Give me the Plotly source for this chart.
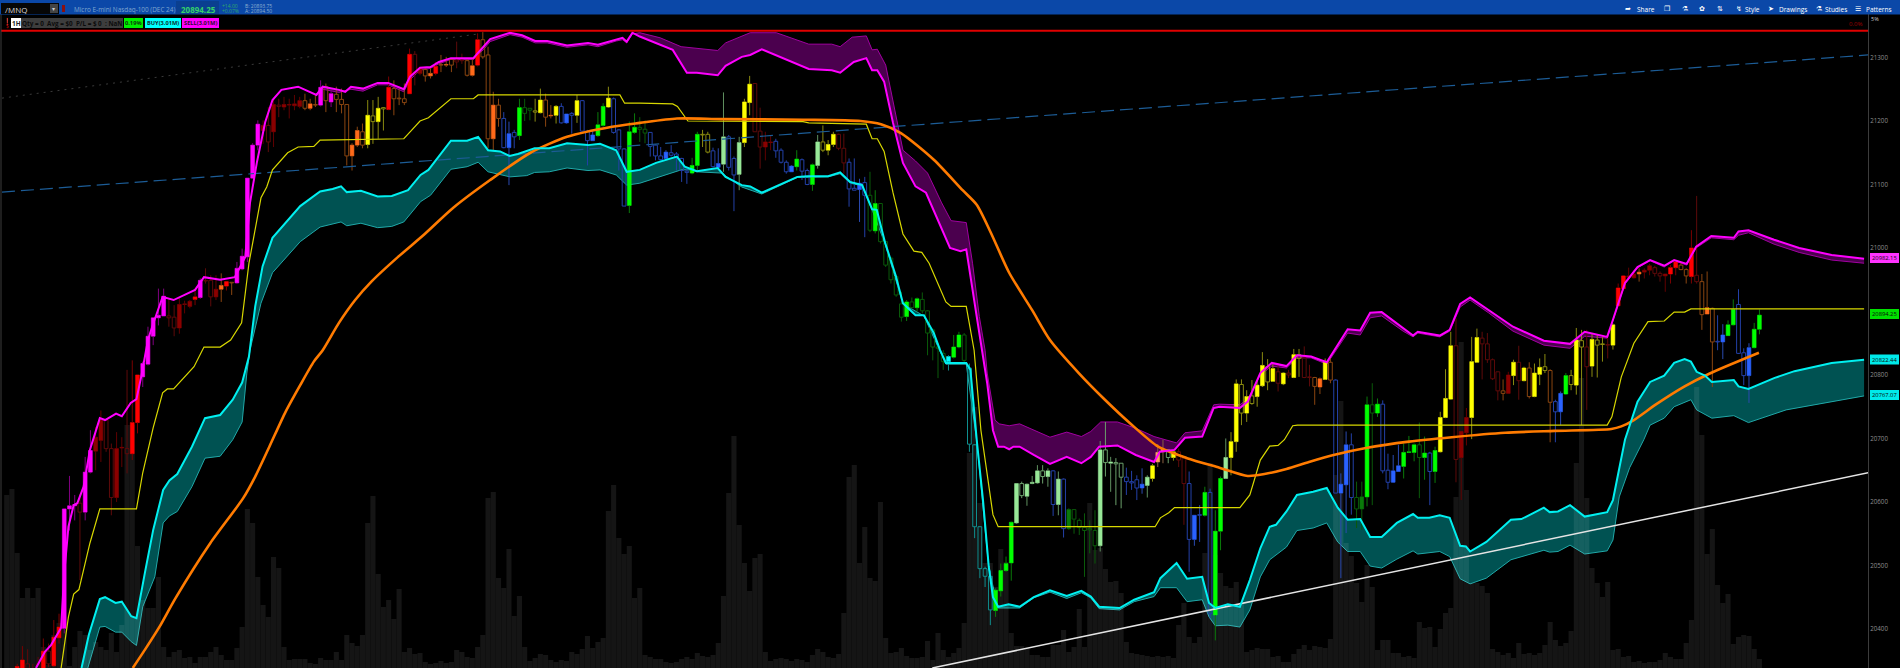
import plotly.graph_objects as go

# ---------- candles (one bar per hour) ----------
styles = ("rrRRrrrRrR" "RMMMrMMDDr" "rDDrRRMMMM" "MrrDDDRMrr" "DORoMMMMMD"
          "rDrDDDDoOo" "MoMoooOOoY" "yYyRoooRrD" "oORoOorroO" "RooOobBbGg"
          "gyYoOYbBbY" "bbBGGYbbbG" "GggbbbBbbb" "bGGyybBLbb" "LYYrrDDbbb"
          "BGbbGLyYYr" "rbbBbgGggg" "ggGgGggggg" "CGGgcccccG" "GGGLlLLLlL"
          "bLbEgggggL" "lLllbbbBLY" "PPlYrrbBbG" "bGGLYYyYyY" "YyYrYrYyrr"
          "oOYobBBbgE" "GgGbbBBGGG" "gGbGYYYrDD" "YYrrrroDYr" "YoYYyobBGy"
          "YyrYyyrYRR" "DDODDrrDRR" "ooRroOobBG" "GbbBGG")
closes = [20325,20325,20341,20351,20345,20335,20345,20365,20365,20387,
 20403,20589,20594,20596,20598,20647,20681,20702,20729,20729,
 20684,20684,20686,20684,20725,20800,20818,20861,20890,20894,
 20924,20893,20891,20911,20912,20916,20923,20949,20949,20949,
 20935,20941,20947,20946,20968,20987,21110,21162,21195,21193,
 21193,21226,21225,21226,21226,21227,21232,21232,21227,21226,
 21253,21254,21243,21242,21234,21226,21162,21185,21183,21209,
 21208,21220,21221,21253,21251,21236,21235,21305,21305,21283,
 21281,21275,21286,21289,21289,21297,21296,21296,21295,21287,
 21328,21328,21304,21225,21225,21204,21180,21182,21221,21221,
 21220,21216,21233,21233,21209,21223,21223,21211,21212,21232,
 21232,21184,21178,21194,21223,21236,21235,21186,21156,21183,
 21190,21190,21187,21182,21162,21145,21151,21150,21148,21141,
 21121,21130,21179,21179,21179,21153,21133,21175,21175,21141,
 21166,21230,21258,21259,21184,21167,21167,21168,21154,21135,
 21129,21140,21139,21122,21131,21167,21167,21163,21179,21179,
 21157,21135,21094,21102,21103,21083,21070,21070,21010,20984,
 20955,20912,20915,20915,20920,20919,20901,20871,20844,20834,
 20829,20844,20863,20863,20811,20690,20561,20495,20483,20461,
 20492,20503,20568,20629,20629,20628,20631,20649,20649,20649,
 20649,20636,20636,20588,20588,20571,20560,20558,20555,20682,
 20682,20663,20662,20661,20639,20632,20635,20628,20639,20657,
 20678,20683,20682,20679,20679,20669,20629,20579,20580,20615,
 20615,20554,20637,20670,20695,20786,20785,20766,20767,20784,
 20815,20813,20810,20805,20803,20803,20832,20832,20827,20797,
 20796,20794,20820,20820,20792,20628,20690,20690,20607,20608,
 20753,20753,20754,20754,20650,20649,20657,20678,20679,20690,
 20690,20677,20677,20681,20733,20763,20846,20846,20711,20733,
 20821,20859,20858,20849,20824,20805,20775,20800,20820,20820,
 20811,20811,20803,20812,20813,20807,20758,20771,20799,20799,
 20855,20854,20844,20856,20855,20849,20848,20879,20937,20956,
 20956,20959,20962,20965,20972,20969,20960,20959,20969,20978,
 20973,20966,21000,20957,20947,20906,20905,20853,20863,20879,
 20903,20911,20835,20843,20872,20894.25]
opens = [20315,20315,20330,20338,20338,20325,20330,20330,20345,20342,
 20386,20401,20589,20594,20584,20584,20647,20680,20697,20684,
 20607,20607,20685,20676,20676,20725,20797,20817,20861,20890,
 20893,20890,20874,20874,20911,20908,20919,20922,20948,20923,
 20923,20935,20940,20945,20945,20967,20986,21110,21162,21185,
 21167,21183,21223,21222,21225,21224,21223,21220,21220,21225,
 21225,21232,21230,21234,21226,21145,21145,21162,21162,21163,
 21199,21199,21219,21218,21235,21235,21229,21243,21275,21275,
 21271,21271,21275,21288,21288,21288,21293,21295,21272,21272,
 21288,21301,21172,21172,21204,21158,21158,21175,21177,21212,
 21217,21214,21213,21206,21208,21209,21197,21197,21209,21209,
 21184,21169,21169,21177,21193,21222,21182,21156,21066,21067,
 21182,21187,21181,21160,21145,21139,21141,21146,21142,21122,
 21119,21118,21130,21178,21151,21128,21127,21132,21127,21115,
 21116,21166,21229,21183,21159,21159,21166,21153,21135,21120,
 21120,21128,21121,21100,21100,21130,21154,21154,21163,21157,
 21134,21093,21091,21092,21083,21028,21027,21010,20973,20950,
 20926,20891,20892,20906,20906,20901,20866,20844,20842,20821,
 20821,20828,20844,20823,20691,20561,20495,20483,20430,20429,
 20460,20492,20504,20567,20610,20609,20629,20630,20640,20640,
 20596,20596,20558,20558,20573,20560,20555,20556,20531,20531,
 20662,20661,20660,20639,20632,20630,20622,20622,20626,20637,
 20663,20679,20670,20670,20666,20629,20541,20541,20579,20579,
 20424,20422,20554,20637,20670,20695,20740,20740,20755,20766,
 20783,20789,20790,20787,20786,20800,20796,20826,20796,20796,
 20782,20781,20793,20792,20614,20614,20627,20607,20589,20589,
 20608,20740,20740,20649,20631,20631,20648,20656,20678,20678,
 20670,20670,20648,20648,20679,20733,20762,20667,20670,20709,
 20733,20820,20849,20824,20794,20775,20771,20771,20799,20791,
 20791,20766,20766,20801,20807,20757,20742,20742,20770,20785,
 20784,20844,20813,20814,20847,20848,20847,20847,20909,20936,
 20954,20953,20959,20962,20965,20960,20956,20956,20959,20969,
 20966,20956,20955,20947,20895,20896,20852,20852,20852,20862,
 20879,20834,20799,20799,20843,20872]
highs = [20330,20330,20345,20373,20368,20345,20356,20385,20377,20414,
 20424,20589,20641,20611,20613,20671,20713,20718,20744,20731,
 20692,20710,20702,20808,20823,20800,20821,20876,20890,20936,
 20936,20920,20910,20923,20917,20918,20936,20952,20968,20957,
 20957,20960,20947,20946,20978,20999,21110,21165,21201,21201,
 21222,21235,21235,21238,21235,21241,21238,21243,21235,21241,
 21264,21259,21249,21254,21251,21226,21165,21191,21196,21233,
 21233,21238,21222,21270,21264,21251,21259,21314,21310,21285,
 21285,21285,21293,21304,21301,21298,21325,21306,21298,21298,
 21338,21340,21317,21246,21235,21214,21199,21186,21235,21235,
 21220,21235,21251,21243,21225,21225,21228,21211,21214,21241,
 21233,21186,21186,21214,21228,21254,21237,21187,21157,21199,
 21212,21206,21201,21182,21163,21159,21154,21162,21151,21142,
 21125,21142,21183,21186,21183,21158,21157,21245,21178,21144,
 21175,21235,21271,21259,21221,21183,21178,21172,21157,21138,
 21130,21154,21141,21125,21133,21178,21193,21170,21183,21180,
 21180,21141,21141,21109,21112,21120,21091,21070,21010,20986,
 20957,20931,20918,20922,20922,20930,20902,20873,20850,20839,
 20831,20863,20868,20866,20818,20691,20562,20498,20492,20464,
 20503,20514,20569,20629,20632,20629,20641,20658,20658,20653,
 20650,20648,20637,20590,20588,20574,20582,20571,20587,20696,
 20726,20671,20669,20661,20654,20649,20642,20653,20642,20660,
 20691,20698,20683,20682,20684,20669,20648,20579,20595,20624,
 20621,20587,20640,20700,20710,20793,20793,20776,20792,20792,
 20836,20825,20817,20818,20804,20808,20841,20841,20845,20816,
 20797,20796,20826,20830,20793,20645,20711,20708,20632,20632,
 20766,20787,20763,20760,20676,20674,20690,20692,20704,20692,
 20725,20703,20679,20687,20742,20809,20868,20889,20711,20748,
 20860,20873,20868,20866,20826,20805,20793,20805,20824,20846,
 20813,20820,20818,20826,20833,20809,20761,20774,20803,20808,
 20874,20871,20871,20866,20863,20860,20863,20881,20944,20957,
 20969,20965,20968,20968,20975,20972,20963,20959,20973,20981,
 20978,20968,21028,21082,20959,20963,20906,20894,20880,20886,
 20919,20935,20842,20850,20882,20903]
lows = [20310,20310,20325,20335,20330,20322,20325,20327,20340,20340,
 20377,20393,20555,20571,20477,20571,20645,20650,20663,20679,
 20579,20600,20655,20645,20666,20708,20781,20815,20847,20878,
 20893,20876,20861,20865,20897,20905,20910,20920,20944,20908,
 20918,20915,20933,20926,20944,20965,20978,21109,21154,21164,
 21151,21159,21206,21217,21204,21217,21220,21217,21217,21222,
 21223,21214,21222,21214,21212,21130,21122,21159,21157,21157,
 21164,21172,21185,21217,21209,21225,21225,21243,21256,21272,
 21262,21267,21272,21277,21285,21277,21283,21290,21270,21270,
 21286,21298,21157,21154,21191,21157,21099,21157,21170,21200,
 21201,21199,21212,21191,21204,21196,21196,21196,21180,21197,
 21183,21130,21169,21175,21191,21221,21180,21122,21066,21055,
 21180,21167,21165,21144,21138,21138,21138,21144,21122,21104,
 21101,21116,21122,21159,21149,21127,21125,21120,21122,21058,
 21091,21159,21209,21183,21125,21138,21154,21142,21133,21117,
 21120,21122,21107,21099,21090,21125,21151,21146,21159,21154,
 21117,21065,21091,21041,21017,21025,21023,21007,20970,20944,
 20923,20884,20885,20905,20900,20897,20831,20823,20795,20808,
 20807,20826,20842,20818,20679,20543,20480,20466,20406,20419,
 20451,20490,20476,20566,20606,20594,20628,20629,20629,20624,
 20578,20579,20544,20556,20550,20548,20482,20519,20503,20522,
 20640,20616,20595,20590,20611,20619,20603,20613,20607,20632,
 20655,20661,20661,20665,20655,20564,20490,20531,20537,20577,
 20417,20382,20524,20636,20642,20679,20721,20726,20753,20750,
 20781,20776,20789,20774,20784,20795,20795,20797,20795,20782,
 20753,20770,20792,20787,20614,20480,20551,20580,20559,20556,
 20593,20595,20734,20645,20620,20630,20648,20637,20677,20664,
 20606,20635,20595,20630,20678,20732,20761,20631,20603,20689,
 20699,20819,20793,20819,20792,20760,20760,20770,20784,20761,
 20790,20763,20765,20784,20803,20694,20694,20721,20769,20776,
 20769,20721,20745,20797,20796,20821,20826,20840,20909,20934,
 20952,20952,20947,20952,20957,20955,20947,20931,20944,20957,
 20965,20944,20944,20944,20871,20896,20781,20839,20825,20862,
 20878,20833,20784,20756,20842,20864]
volumes = [173,179,115,70,80,70,80,21,3,33, 45,41,2,21,37,33,18,26,21,18,
 35,16,43,243,243,122,68,60,60,91, 21,11,16,18,10,11,5,11,11,16,
 21,13,8,8,20,41,159,145,91,63, 51,111,100,21,8,9,9,9,5,4,
 10,8,8,16,8,33,25,22,33,145, 172,94,61,68,49,79,16,20,14,15,
 6,4,5,7,5,6,18,16,11,10, 21,33,170,176,90,80,119,52,72,21,
 7,10,14,13,8,6,8,7,16,14, 19,32,20,26,30,157,183,130,114,122,
 70,80,13,11,9,9,6,5,6,9, 11,9,15,12,11,13,25,72,175,232,
 143,105,77,110,114,16,7,9,10,9, 7,9,8,6,13,19,16,11,10,14,
 55,191,203,105,141,90,87,166,30,15, 16,20,12,10,10,11,27,8,35,18,
 11,15,20,45,215,261,165,105,105,81, 119,106,35,22,22,20,13,13,11,11,
 23,23,38,16,21,59,21,165,118,120, 99,86,87,75,26,15,14,13,12,11,
 12,11,12,10,43,65,31,25,31,115, 205,113,95,82,80,86,66,16,18,20,
 19,19,11,12,6,6,14,19,23,18, 22,21,20,29,193,267,125,112,85,66,
 103,81,18,28,28,15,15,11,12,10, 46,40,41,21,39,55,60,171,326,178,
 85,85,82,75,19,16,13,15,10,25, 14,15,13,15,23,46,28,22,25,37,
 205,290,170,100,85,71,86,18,19,11, 12,6,7,5,6,6,8,15,11,9,
 9,25,48,281,233,114,139,83,65,74, 24,31,33,32,19,9]

# ---------- indicator lines (bar position, price) ----------
sell_x = [5.6,7.3,8.5,10.4,11.0,11.8,12.8,13.5,14.7,15.9,17.8,18.8,20.9,22.0,23.7,24.8,25.7,27.0,27.8,29.8,31.9,36.0,37.7,40.8,43.6,45.6,46.5,47.8,49.4,50.8,52.5,55.7,59.2,60.4,63.5,64.7,65.8,68.1,70.9,72.9,75.9,77.1,79.0,81.0,82.6,84.9,89.2,91.2,92.4,96.2,98.5,101.0,103.3,107.1,111.1,113.0,116.5,117.7,118.5,119.6,121.0,124.1,127.3,130.0,131.9,135.9,137.4,140.5,142.1,144.3,148.4,153.3,157.7,159.3,161.9,164.3,165.4,166.4,167.7,169.4,171.3,173.7,175.7,178.4,180.3,182.3,183.4,185.4,186.4,187.4,188.5,189.5,190.6,191.6,192.4,193.6,196.3,199.4,202.6,205.4,207.2,208.8,212.3,215.8,219.3,220.4,223.2,225.2,228.5,230.7,231.8,235.7,237.2,239.6,241.8,244.6,246.6,249.3,252.3,256.3,258.7,260.6,262.8,266.9,268.8,269.7,273.9,275.8,277.8,279.7,283.2,287.9,293.8,298.8,301.6,305.9,307.0,309.3,311.7,314.1,316.8,318.7,321.1,322.9,325.8,330.1,331.0,332.9,337.8,342.6,348.8,355.0]
sell_y = [20338.5,20364,20375,20402,20488,20561,20595,20598,20624,20682,20732,20729,20739,20735,20756,20762,20797,20855,20876,20923,20918,20934,20954,20950,20954,20986,21071,21134,21198,21233,21249,21254,21241,21254,21249,21246,21254,21251,21260,21260,21250,21270,21284,21285,21293,21299,21299,21317,21329,21339,21335,21326,21326,21319,21323,21320,21329,21331,21325,21339,21333,21323,21312,21276,21276,21272,21287,21301,21304,21313,21299,21282,21280,21276,21293,21299,21280,21280,21262,21197,21134,21097,21087,21036,21000,20995,20998,20892,20839,20787,20713,20687,20687,20683,20687,20687,20674,20660,20671,20661,20671,20687,20689,20674,20663,20679,20682,20701,20703,20748,20750,20748,20758,20803,20819,20814,20831,20829,20820,20872,20870,20898,20899,20874,20862,20868,20862,20871,20912,20922,20902,20876,20854,20849,20868,20860,20887,20945,20970,20981,20972,20981,20975,21002,21019,21016,21026,21028,21013,21000,20989,20983]
sell_edge_x = [60.4,63.5,65.8,68.1,70.9,72.9,75.9,77.1,79.0,81.0,82.6,84.9,89.2,91.2,92.4,96.2,98.5,101.0,103.3,107.1,111.1,113.0,116.5,117.7,118.5,119.6,121.0,124.9,128.9,131.2,135.9,137.4,142.1,147.1,150.7,153.3,157.7,159.3,161.6,164.3,165.4,166.4,168.0,169.9,171.3,173.7,176.0,178.7,180.5,183.4,184.6,185.9,187.0,187.4,188.9,189.7,191.6,193.6,196.3,199.4,202.6,205.4,207.2,209.1,212.3,215.8,219.3,223.6,225.2,228.5,230.7,231.8,235.7,237.2,239.6,241.8,244.6,246.6,249.3,252.3,256.3,258.7,260.6,262.8,266.9,268.8,269.7,273.9,275.8,277.8,279.7,283.2,287.9,293.8,298.8,301.6,305.9,307.0,309.3,311.7,314.1,316.8,318.7,321.1,322.9,325.8,330.1,331.0,332.9,337.8,342.6,348.8,355.0]
sell_edge_y = [21250,21245,21250,21247,21257,21257,21246,21265,21280,21283,21290,21297,21297,21313,21325,21336,21332,21323,21323,21316,21320,21317,21326,21328,21323,21337,21339,21331,21317,21315,21311,21323,21339,21339,21329,21321,21321,21317,21332,21334,21312,21313,21288,21213,21154,21137,21118,21071,21043,21040,20976,20892,20839,20803,20729,20723,20720,20723,20713,20702,20710,20703,20711,20726,20726,20716,20703,20693,20709,20712,20753,20754,20753,20762,20800,20814,20811,20827,20827,20817,20866,20863,20890,20893,20869,20860,20866,20860,20869,20907,20918,20898,20869,20847,20842,20861,20858,20885,20943,20969,20980,20970,20980,20973,21000,21016,21013,21020,21024,21006,20993,20981,20976]
buy_x = [14.3,15.7,17.8,18.8,20.8,22.0,23.8,24.8,26.4,28.0,29.9,31.1,32.6,35.4,37.9,40.8,43.2,45.0,46.3,47.5,48.9,50.8,56.1,59.9,62.3,63.9,65.0,67.7,70.9,73.6,76.7,79.1,80.6,84.9,88.0,90.1,92.0,94.3,96.1,97.7,100.9,103.7,107.1,111.1,113.4,116.5,118.5,121.0,124.1,128.1,129.6,130.8,131.9,135.9,137.4,140.5,142.1,144.3,148.4,151.1,153.0,157.0,159.3,161.2,163.5,165.4,166.3,167.9,169.9,171.3,173.7,175.3,177.2,178.4,179.5,183.4,184.2,185.4,186.6,187.7,188.5,189.5,191.5,193.6,196.3,199.4,202.6,205.4,207.2,208.8,212.7,215.5,219.3,220.5,223.6,225.6,228.5,229.8,231.0,233.4,235.7,237.6,239.6,241.4,242.6,244.6,246.6,249.7,252.3,254.4,256.3,258.7,260.6,262.8,265.7,268.8,269.7,271.9,273.9,275.8,277.8,278.9,279.7,282.8,287.5,289.5,293.8,294.9,296.5,298.8,301.6,305.9,307.0,309.3,311.7,314.1,316.8,318.7,320.7,321.9,323.0,324.6,325.9,330.1,331.0,332.9,337.8,341.7,348.8,355.0]
buy_y = [20338.5,20391,20447,20450,20441,20443,20420,20417,20488,20556,20619,20634,20644,20687,20732,20737,20761,20788,20829,20908,20971,21016,21066,21089,21093,21097,21088,21090,21081,21082,21091,21115,21123,21169,21169,21175,21154,21152,21145,21148,21157,21157,21165,21162,21164,21154,21120,21123,21134,21144,21128,21124,21121,21126,21112,21099,21097,21087,21102,21112,21113,21113,21119,21104,21099,21061,21060,21008,20957,20913,20894,20894,20866,20839,20819,20819,20808,20698,20603,20498,20450,20435,20439,20435,20450,20461,20452,20460,20451,20435,20433,20446,20458,20480,20504,20479,20482,20441,20433,20439,20435,20477,20527,20561,20564,20585,20611,20616,20622,20591,20572,20573,20545,20545,20567,20581,20575,20575,20579,20575,20531,20530,20522,20537,20572,20573,20591,20584,20585,20595,20577,20584,20603,20698,20758,20789,20799,20819,20825,20821,20805,20799,20789,20792,20782,20778,20795,20806,20819,20824]
buy_edge_x = [15.5,17.8,18.8,20.8,22.0,23.8,24.8,26.0,28.3,29.9,31.1,32.6,35.4,37.9,40.8,43.2,45.0,45.9,46.5,48.6,50.8,56.1,59.9,63.9,65.0,67.7,70.9,73.6,75.9,79.1,81.0,84.9,88.0,90.1,92.0,96.2,99.4,100.9,103.7,107.1,111.1,113.4,116.5,118.5,121.0,124.1,128.9,130.8,131.9,136.6,140.5,144.3,148.4,151.1,157.0,159.3,161.2,163.5,165.4,167.9,171.3,175.3,179.5,183.4,185.4,187.7,189.5,193.6,196.3,199.4,202.6,205.4,207.2,208.8,212.7,215.5,219.3,220.5,223.6,225.6,228.5,229.8,231.0,233.4,235.7,237.6,239.6,241.4,244.6,246.6,249.7,252.3,254.4,256.3,258.7,260.6,262.8,265.7,268.8,269.7,273.9,275.8,277.8,279.7,282.8,287.5,293.8,294.9,296.5,298.8,301.6,305.9,307.0,308.2,310.2,312.9,314.1,316.8,318.7,321.9,323.0,325.9,330.1,332.9,340.1,348.8,355.0]
buy_edge_y = [20338.5,20403,20404,20395,20395,20380,20374,20435,20482,20567,20578,20585,20624,20669,20672,20698,20726,20803,20839,20913,20961,21010,21033,21041,21035,21039,21032,21034,21041,21073,21083,21124,21128,21135,21120,21112,21114,21119,21120,21126,21122,21123,21115,21099,21102,21110,21123,21123,21120,21118,21096,21085,21101,21111,21112,21117,21102,21098,21060,21006,20912,20893,20817,20817,20696,20496,20433,20433,20449,20458,20448,20457,20449,20432,20430,20443,20451,20465,20465,20443,20446,20419,20405,20406,20403,20430,20482,20509,20529,20555,20559,20567,20537,20522,20522,20499,20496,20510,20523,20518,20522,20514,20479,20471,20480,20509,20524,20521,20522,20532,20518,20523,20540,20608,20654,20698,20721,20732,20750,20761,20745,20732,20736,20725,20745,20758,20767]
mid_x = [10.4,11.8,12.8,13.8,15.9,17.8,24.8,26.0,28.0,29.8,30.7,31.9,35.8,37.7,40.8,42.8,44.9,46.3,48.6,49.7,50.8,53.7,55.7,58.7,59.9,75.9,77.1,79.0,80.6,84.9,89.2,90.1,117.2,118.1,121.0,127.3,128.2,130.2,152.2,153.3,164.3,165.4,166.4,167.7,169.4,171.3,173.4,174.9,176.3,179.5,180.5,183.4,184.9,186.2,188.5,189.5,219.5,220.5,222.1,223.2,235.7,237.6,239.6,241.4,243.0,244.2,245.8,246.7,305.9,306.8,308.6,311.0,313.7,316.8,318.7,320.7,321.9,355.0]
mid_y = [20338.5,20419,20455,20462,20535,20589,20589,20646,20717,20772,20778,20778,20813,20844,20844,20855,20882,20976,21079,21096,21123,21150,21159,21160,21170,21172,21183,21200,21205,21235,21235,21241,21241,21228,21228,21227,21223,21200,21199,21197,21195,21172,21172,21152,21087,21022,20995,20993,20976,20915,20908,20908,20839,20713,20580,20561,20561,20575,20583,20591,20591,20611,20666,20688,20689,20698,20720,20721,20721,20734,20797,20850,20884,20885,20899,20899,20904,20904]
avg_x = [24.1,26.4,29.1,32.3,38.9,45.2,47.5,50.2,53.3,56.1,58.7,60.4,63.5,66.6,69.7,74.8,79.9,85.3,92.4,100.1,107.1,115.7,121.0,128.1,136.6,152.2,163.2,167.1,170.9,177.2,182.7,185.4,188.1,191.6,196.0,199.4,204.9,209.9,214.7,220.1,225.6,231.8,237.2,240.4,244.6,248.9,253.6,259.8,268.0,276.2,286.4,295.8,306.7,308.6,311.0,315.3,320.7,325.4,334.9]
avg_y = [20338.5,20367,20402,20449,20535,20606,20640,20687,20742,20784,20821,20839,20882,20918,20947,20986,21022,21063,21107,21150,21175,21191,21197,21204,21203,21202,21200,21195,21181,21139,21091,21068,21024,20961,20902,20855,20803,20761,20724,20687,20669,20654,20641,20644,20652,20663,20674,20685,20695,20702,20709,20712,20715,20719,20729,20754,20782,20802,20835]

# ---------- drawn trend lines ----------
trend_blue_x, trend_blue_y = [-0.9, 355.8], [21088, 21304]
trend_dot_x, trend_dot_y = [-0.9, 90.1], [21236, 21337]
trend_white_x, trend_white_y = [176.9, 355.8], [20338.5, 20646]
top_level = 21342
price_ticks = [20400,20500,20600,20700,20800,21000,21100,21200,21300]

# ---------- styling ----------
BODY = dict(M="#ff00ff",R="#ff0000",D="#8b0000",O="#ff6a1a",Y="#ffff00",G="#00ff00",B="#2a62ff",L="#98e898",C="#00ffff",P="#ffa060",E="#0a7a0a")
HOLLOW = dict(r="#5e0a0a",o="#8a4510",y="#8a8a10",g="#0a5a0a",b="#2340a8",l="#6a9f6a",c="#0f8f8f")
WICK = dict(M="#800080",R="#7a0000",D="#600000",O="#8a4510",Y="#8a8a10",G="#0a7a0a",B="#2a4ab0",L="#5f8f5f",C="#0f8f8f",P="#8a6040",E="#0a5a0a",**HOLLOW)

W, H, L_M, R_M, T_M = 1900, 668, 1, 32, 14
x_range = [-1.09, 355.75]
y_range = [20338.5, 21368.5]
def px(x): return (x - L_M) / (W - L_M - R_M)
def py(y): return (H - y) / (H - T_M)

assert len(styles) == len(closes) == len(opens) == len(highs) == len(lows) == len(volumes)

fig = go.Figure()
# semi-transparent bands sit under the volume
def band(xa, ya, xb, yb, fill, edge):
    fig.add_trace(go.Scatter(x=xa, y=ya, mode="lines", line=dict(width=0, color=edge), hoverinfo="skip", yaxis="y"))
    fig.add_trace(go.Scatter(x=xb, y=yb, mode="lines", line=dict(width=1, color=edge), fill="tonexty", fillcolor=fill, hoverinfo="skip", yaxis="y"))
k = next(n for n, v in enumerate(sell_x) if v >= 60)
band(sell_x[k:], sell_y[k:], sell_edge_x, sell_edge_y, "rgba(125,0,130,0.6)", "#a000a0")
band(buy_x, buy_y, buy_edge_x, buy_edge_y, "rgba(0,255,255,0.32)", "#20a8a8")

# volume
fig.add_trace(go.Bar(x=list(range(len(volumes))), y=volumes, width=0.97, marker=dict(color="rgba(255,255,255,0.082)", line=dict(width=0)), yaxis="y2", hoverinfo="skip"))

# candles
for code in sorted(set(styles)):
    idx = [i for i, s in enumerate(styles) if s == code]
    lo = [min(opens[i], closes[i]) for i in idx]
    hi = [max(opens[i], closes[i]) for i in idx]
    hollow = code in HOLLOW
    col = HOLLOW[code] if hollow else BODY[code]
    fig.add_trace(go.Bar(x=idx, base=lo, y=[b - a for a, b in zip(lo, hi)], width=0.72,
                         marker=dict(color="rgba(0,0,0,0)" if hollow else col, line=dict(width=1 if hollow else 0.6, color=col)),
                         yaxis="y3", hoverinfo="skip"))
    wx, wy = [], []
    for i, a, b in zip(idx, lo, hi):
        if highs[i] > b:
            wx += [i, i, None]; wy += [b, highs[i], None]
        if lows[i] < a:
            wx += [i, i, None]; wy += [lows[i], a, None]
    fig.add_trace(go.Scatter(x=wx, y=wy, mode="lines", line=dict(width=1, color=WICK[code]), yaxis="y3", hoverinfo="skip"))

# trend lines and indicators
fig.add_trace(go.Scatter(x=trend_dot_x, y=trend_dot_y, mode="lines", line=dict(width=1, color="#3a3a3a", dash="2px,5px"), yaxis="y3", hoverinfo="skip"))
fig.add_trace(go.Scatter(x=trend_blue_x, y=trend_blue_y, mode="lines", line=dict(width=1.2, color="#1c5c96", dash="13px,6px"), yaxis="y3", hoverinfo="skip"))
fig.add_trace(go.Scatter(x=mid_x, y=mid_y, mode="lines", line=dict(width=1.2, color="#d8d800"), yaxis="y3", hoverinfo="skip"))
fig.add_trace(go.Scatter(x=trend_white_x, y=trend_white_y, mode="lines", line=dict(width=1.5, color="#e4e4e4"), yaxis="y3", hoverinfo="skip"))
fig.add_trace(go.Scatter(x=avg_x, y=avg_y, mode="lines", line=dict(width=2.6, color="#ff7b00", shape="spline", smoothing=0.7), yaxis="y3", hoverinfo="skip"))
fig.add_trace(go.Scatter(x=buy_x, y=buy_y, mode="lines", line=dict(width=2, color="#00f0f0"), yaxis="y3", hoverinfo="skip"))
fig.add_trace(go.Scatter(x=sell_x, y=sell_y, mode="lines", line=dict(width=2, color="#ff00ff"), yaxis="y3", hoverinfo="skip"))

shapes, ann = [], []
def rect(x0, y0, x1, y1, color):
    shapes.append(dict(type="rect", xref="paper", yref="paper", x0=px(x0), x1=px(x1), y0=py(y0), y1=py(y1), fillcolor=color, line=dict(width=0), layer="above"))
def text(x, y, s, color, size=8, anchor="left", bold=False, font="Open Sans"):
    ann.append(dict(xref="paper", yref="paper", x=px(x), y=py(y), text=f"<b>{s}</b>" if bold else s, showarrow=False, xanchor=anchor, yanchor="middle",
                    font=dict(color=color, size=size, family=font), borderpad=0, borderwidth=0))

# top red level
shapes.append(dict(type="line", xref="paper", yref="y3", x0=0, x1=1, y0=top_level, y1=top_level, line=dict(color="#e00000", width=2), layer="above"))
# frame
shapes.append(dict(type="line", xref="paper", yref="paper", x0=0, x1=0, y0=0, y1=1, line=dict(color="#3c3c3c", width=1), layer="above"))

# header bar
rect(0, 0, W, 14.5, "#0b48a8")
rect(176, 1, 219, 14, "#0a3f90")
rect(1, 3, 59, 14, "#060606")
rect(50, 4, 58, 13, "#444444")
text(5, 9, "/MNQ", "#d8d8d8", 8)
text(52, 9, "▾", "#cccccc", 6)
rect(62, 5, 65, 12, "#8a1010")
text(74, 9.5, "Micro E-mini Nasdaq-100 (DEC 24)", "#7fa6cf", 6.4)
text(181, 9.5, "20894.25", "#34d36a", 8, bold=True)
text(222, 6, "+14.00", "#2fa86a", 5); text(222, 11, "+0.07%", "#2fa86a", 5)
text(245, 6, "B: 20893.75", "#8fb0d0", 5); text(245, 11, "A: 20894.50", "#8fb0d0", 5)
for xx, label in [(1637, "Share"), (1745, "Style"), (1779, "Drawings"), (1825, "Studies"), (1866, "Patterns")]:
    text(xx, 9.5, label, "#ffffff", 6.5)
for xx, glyph in [(1628, "➦"), (1667, "❐"), (1685, "⚗"), (1702, "✿"), (1720, "⇅"), (1739, "↯"), (1771, "➤"), (1819, "⚗"), (1858, "☰")]:
    text(xx, 9.5, glyph, "#ffffff", 7, anchor="center", font="DejaVu Sans")

# studies row
text(7, 21, "❗", "#ffffff", 7, anchor="center", font="DejaVu Sans")
text(7, 26.5, "$", "#c00000", 5, anchor="center")
rect(11, 18, 21, 28, "#ffffff"); text(16, 23, "1H", "#222222", 6.5, anchor="center", bold=True)
rect(21, 18, 123, 28, "#3d3d3d"); text(72, 23, "Qty = 0  Avg = $0  P/L = $ 0  : NaN", "#0c0c0c", 6.3, anchor="center", bold=True)
rect(124, 18, 143, 28, "#00f000"); text(133.5, 23, "0.19%", "#0c3c0c", 5.7, anchor="center", bold=True)
rect(145, 18, 181, 28, "#00ffff"); text(163, 23, "BUY(3.01M)", "#0c3030", 5.7, anchor="center", bold=True)
rect(182, 18, 219, 28, "#ff00ff"); text(200.5, 23, "SELL(3.01M)", "#300c30", 5.7, anchor="center", bold=True)

text(1862, 24.5, "0.0%", "#a00000", 6, anchor="right")
text(1871, 19, "5%", "#cccccc", 5.5)

# right-hand price flags
for yy, c, s in [(258, "#ff33ff", "20982.15"), (314, "#00e000", "20894.25"), (359.5, "#00eaea", "20822.44"), (395, "#00eaea", "20767.07")]:
    rect(1870, yy - 5, 1899, yy + 5, c)
    text(1884.5, yy, s, "#0a0a0a", 5.8, anchor="center")

same = dict(range=y_range, showgrid=False, zeroline=False, showticklabels=False, ticks="", fixedrange=True)
fig.update_layout(
    width=W, height=H, margin=dict(l=L_M, r=R_M, t=T_M, b=0, pad=0),
    paper_bgcolor="#000000", plot_bgcolor="#000000", showlegend=False, barmode="overlay",
    xaxis=dict(range=x_range, showgrid=False, zeroline=False, showticklabels=False, ticks="", fixedrange=True),
    yaxis=dict(range=y_range, side="right", showgrid=False, zeroline=False, tickvals=price_ticks, ticktext=[str(v) for v in price_ticks],
               tickfont=dict(color="#8e8e8e", size=6.2, family="Open Sans"), ticks="", showline=True, linecolor="#3c3c3c", linewidth=1, fixedrange=True),
    yaxis2=dict(range=[0, H - T_M], overlaying="y", visible=False, fixedrange=True),
    yaxis3=dict(overlaying="y", visible=False, **same),
    shapes=shapes, annotations=ann,
)
fig.write_html("out.html", config={"displayModeBar": False},
               post_script="document.body.style.margin='0';document.documentElement.style.overflow='hidden';document.body.style.background='#000';")
